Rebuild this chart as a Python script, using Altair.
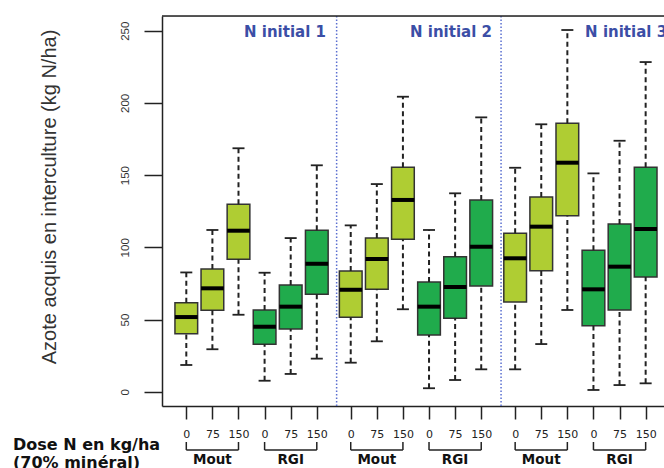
import json
import altair as alt
import pandas as pd

# ---------------- data ----------------
groups = ["N initial 1", "N initial 2", "N initial 3"]
crops = ["Mout", "RGI"]
doses = ["0", "75", "150"]

# order: group 1 (Mout 0,75,150, RGI 0,75,150), group 2 ..., group 3 ...
whisk_lo = [18.5, 29.4, 53.3, 7.6, 12.3, 22.9,
            20.1, 34.9, 57.1, 2.4, 8.1, 15.5,
            15.5, 33.0, 56.6, 1.2, 4.6, 5.8]
q1 = [40.2, 56.4, 91.7, 32.8, 43.4, 67.5,
      51.5, 70.9, 105.5, 39.3, 50.8, 73.2,
      62.1, 83.8, 121.9, 45.7, 56.6, 79.4]
median = [51.7, 71.6, 111.5, 45.0, 58.9, 88.6,
          70.6, 91.9, 132.8, 58.9, 72.5, 100.4,
          92.4, 114.3, 158.6, 70.9, 86.6, 112.7]
q3 = [61.6, 85.0, 129.8, 56.6, 73.9, 111.8,
      83.6, 106.4, 155.4, 76.0, 93.5, 132.8,
      109.7, 134.8, 185.9, 97.9, 116.1, 155.4]
whisk_hi = [82.6, 112.0, 168.6, 82.4, 106.4, 156.8,
            115.2, 143.8, 204.3, 112.0, 137.4, 190.0,
            155.1, 185.2, 250.5, 151.2, 173.8, 228.3]

y_ticks = [0, 50, 100, 150, 200, 250]
y_title = "Azote acquis en interculture (kg N/ha)"
dose_title = ["Dose N en kg/ha", "(70% minéral)"]

# ---------------- layout constants ----------------
GROUP_STEP = 6.3
HALF_BOX = 0.435
HALF_CAP = 0.23
W, H = 502, 390
label_x = [3.21, 9.57, 16.28]
colors = {"Mout": "#afcd33", "RGI": "#20ab4c"}

rows = []
for g in range(3):
    for c in range(2):
        for d in range(3):
            k = g * 6 + c * 3 + d
            pos = round(1 + g * GROUP_STEP + c * 3 + d, 2)
            rows.append(dict(pos=pos, xl=pos - HALF_BOX, xr=pos + HALF_BOX,
                             cl=pos - HALF_CAP, cr=pos + HALF_CAP,
                             lo=whisk_lo[k], q1=q1[k], med=median[k],
                             q3=q3[k], hi=whisk_hi[k], crop=crops[c],
                             dose=doses[d], group=groups[g]))
df = pd.DataFrame(rows)
positions = df["pos"].tolist()
pos_labels = df["dose"].tolist()

brackets = []
for g in range(3):
    for c in range(2):
        a = round(1 + g * GROUP_STEP + c * 3, 2)
        brackets.append(dict(x1=a, x2=a + 2, mid=a + 1, name=crops[c]))
br = pd.DataFrame(brackets)
br_ends = pd.DataFrame({"x": br["x1"].tolist() + br["x2"].tolist()})

seps = pd.DataFrame({"x": [round(1 + g * GROUP_STEP - 0.54, 2) for g in (1, 2)]})
glabels = pd.DataFrame({"x": label_x, "t": groups})
one = pd.DataFrame({"a": [0]})

xscale = alt.Scale(domain=[0.069, 19.303], nice=False, zero=False)
yscale = alt.Scale(domain=[-9.9, 260.2], nice=False, zero=False)

label_expr = f"{json.dumps(pos_labels)}[indexof({json.dumps(positions)}, datum.value)]"

xaxis = alt.Axis(values=positions, labelExpr=label_expr, title=None, grid=False,
                 tickSize=13, tickWidth=1.5, tickColor="#222", domainColor="#222",
                 domainWidth=1.5, labelOverlap=False, labelFlush=False,
                 labelBound=False, labelPadding=9, labelBaseline="top",
                 labelFont="DejaVu Sans", labelFontSize=11, labelColor="#222")
yaxis = alt.Axis(values=y_ticks, title=None, grid=False, tickSize=18, tickWidth=1.5,
                 tickColor="#222", domainColor="#222", domainWidth=1.5,
                 labelAngle=270, labelAlign="center", labelBaseline="alphabetic",
                 labelPadding=16, labelFont="Liberation Sans", labelFontSize=11.5,
                 labelColor="#333")


def X(field):
    return alt.X(field, type="quantitative", scale=xscale, axis=xaxis)


def Y(field):
    return alt.Y(field, type="quantitative", scale=yscale, axis=yaxis)


base = alt.Chart(df)

box = base.mark_rect(stroke="#333", strokeWidth=1.5).encode(
    x=X("xl"), x2="xr:Q", y=Y("q1"), y2="q3:Q",
    color=alt.Color("crop:N", scale=alt.Scale(domain=list(colors.keys()),
                                              range=list(colors.values())),
                    legend=None),
)

wl = base.mark_rule(color="#222", strokeWidth=2, strokeDash=[5, 3.5]).encode(
    x=X("pos"), y=Y("lo"), y2="q1:Q")
wh = base.mark_rule(color="#222", strokeWidth=2, strokeDash=[5, 3.5]).encode(
    x=X("pos"), y=Y("q3"), y2="hi:Q")
cap_lo = base.mark_rule(color="#222", strokeWidth=1.8).encode(
    x=X("cl"), x2="cr:Q", y=Y("lo"))
cap_hi = base.mark_rule(color="#222", strokeWidth=1.8).encode(
    x=X("cl"), x2="cr:Q", y=Y("hi"))
med = base.mark_rule(color="#000", strokeWidth=4).encode(
    x=X("xl"), x2="xr:Q", y=Y("med"))

sep = alt.Chart(seps).mark_rule(color="#5a6fd0", strokeWidth=1.5,
                                strokeDash=[1.5, 2]).encode(
    x=X("x"), y=alt.value(0), y2=alt.value(H))

top = alt.Chart(one).mark_rule(color="#222", strokeWidth=1.5).encode(
    x=alt.value(0), x2=alt.value(W + 5), y=alt.value(0))

gtext = alt.Chart(glabels).mark_text(
    align="left", baseline="middle", font="DejaVu Sans", fontWeight="bold",
    fontSize=15, color="#3b4ea6").encode(
    x=X("x"), y=alt.value(16), text="t:N")

br_line = alt.Chart(br).mark_rule(color="#222", strokeWidth=1.5).encode(
    x=X("x1"), x2="x2:Q", y=alt.value(434))
br_legs = alt.Chart(br_ends).mark_rule(color="#222", strokeWidth=1.5).encode(
    x=X("x"), y=alt.value(426), y2=alt.value(434))
br_text = alt.Chart(br).mark_text(
    align="center", baseline="middle", font="DejaVu Sans", fontWeight="bold",
    fontSize=13.5, color="#111").encode(
    x=X("mid"), y=alt.value(444), text="name:N")

dose_df = pd.DataFrame({"t": dose_title, "dy": [429, 447]})
dose_text = alt.Chart(dose_df).mark_text(
    align="left", baseline="middle", font="DejaVu Sans", fontWeight="bold",
    fontSize=16, color="#111").encode(
    x=alt.value(-149), y=alt.Y("dy:Q", scale=None, axis=None), text="t:N")

ytitle = alt.Chart(pd.DataFrame({"t": [y_title]})).mark_text(
    align="center", baseline="middle", angle=270, font="Liberation Sans",
    fontSize=20, color="#333").encode(
    x=alt.value(-112), y=alt.value(181), text="t:N")

chart = alt.layer(
    box, sep, top, wl, wh, cap_lo, cap_hi, med, gtext,
    br_line, br_legs, br_text, dose_text, ytitle
).properties(
    width=W, height=H,
    autosize=alt.AutoSizeParams(type="none"),
    padding={"left": 162, "top": 16, "right": 0, "bottom": 62},
).configure_view(stroke=None).configure(background="white")

chart.save("out.html", embed_options={"renderer": "svg", "actions": False})
